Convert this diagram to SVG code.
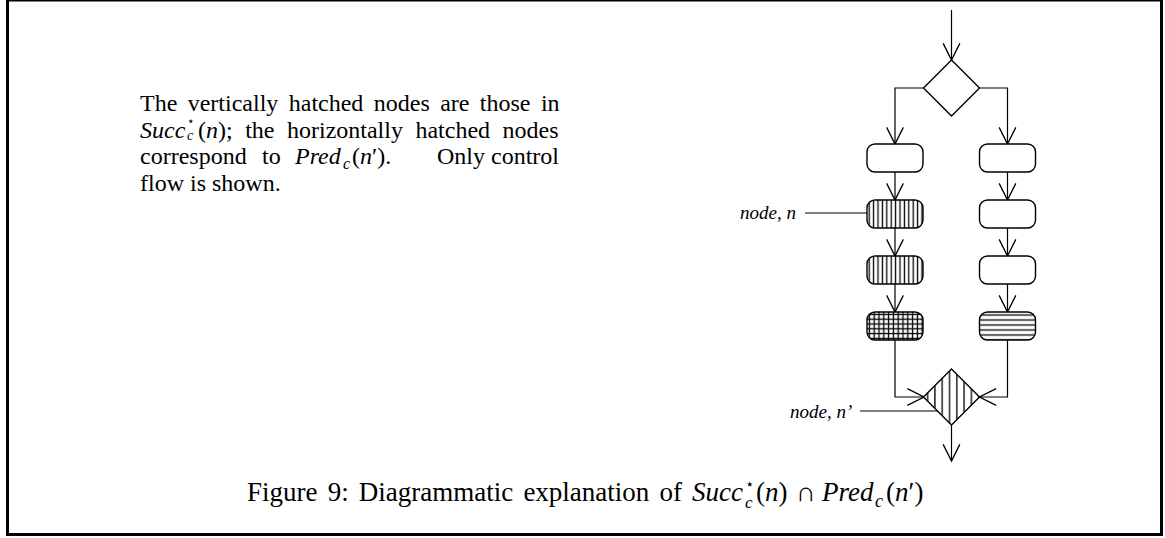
<svg xmlns="http://www.w3.org/2000/svg" width="1165" height="538" viewBox="0 0 1165 538">
<style>
.frame{fill:none;stroke:#000;stroke-width:3}
.ln{fill:none;stroke:#000;stroke-width:1.2}
.node{stroke:#000;stroke-width:1.4}
.txt{font-family:"Liberation Serif","Times New Roman",serif;font-size:24px;fill:#000}
.cap{font-family:"Liberation Serif","Times New Roman",serif;font-size:27px;fill:#000}
.it{font-style:italic}
.lbl{font-family:"Liberation Serif","Times New Roman",serif;font-size:19px;font-style:italic;fill:#000}
</style>
<defs>
<marker id="arr" markerUnits="userSpaceOnUse" markerWidth="20" markerHeight="20" refX="0" refY="0" viewBox="-16 -9 18 18" orient="auto" overflow="visible">
<path d="M-15,-7.5 L0,0 L-15,7.5" fill="none" stroke="#000" stroke-width="1.2"/>
</marker>
<pattern id="vh" patternUnits="userSpaceOnUse" x="867" y="0" width="4.4" height="10">
<rect width="4.4" height="10" fill="#fff"/>
<line x1="2.2" y1="0" x2="2.2" y2="10" stroke="#000" stroke-width="1.3"/>
</pattern>
<pattern id="grid" patternUnits="userSpaceOnUse" x="867" y="312" width="4.8" height="4.8">
<rect width="4.8" height="4.8" fill="#fff"/>
<line x1="2.4" y1="0" x2="2.4" y2="4.8" stroke="#000" stroke-width="1.3"/>
<line x1="0" y1="2.4" x2="4.8" y2="2.4" stroke="#000" stroke-width="1.3"/>
</pattern>
<pattern id="hh" patternUnits="userSpaceOnUse" x="0" y="312.5" width="10" height="5">
<rect width="10" height="5" fill="#fff"/>
<line x1="0" y1="2.5" x2="10" y2="2.5" stroke="#000" stroke-width="1.3"/>
</pattern>
<pattern id="dvh" patternUnits="userSpaceOnUse" x="924" y="0" width="7.3" height="10">
<rect width="7.3" height="10" fill="#fff"/>
<line x1="3.6" y1="0" x2="3.6" y2="10" stroke="#000" stroke-width="1.3"/>
</pattern>
</defs>
<rect width="1165" height="538" fill="#fff"/>
<rect class="frame" x="7.5" y="0" width="1154" height="534.5"/>

<g id="description">
<text class="txt" x="140" y="111" word-spacing="4.4">The vertically hatched nodes are those in</text>
<text class="txt" x="140" y="137.5"><tspan class="it">Succ</tspan><tspan x="187" dy="-12.5" font-size="12">⋆</tspan><tspan class="it" x="187" dy="15" font-size="14">c</tspan><tspan x="198" dy="-2.5" word-spacing="6.5">(<tspan class="it">n</tspan>); the horizontally hatched nodes</tspan></text>
<text class="txt" x="140" y="164">correspond<tspan x="262">to</tspan><tspan class="it" x="295">Pred</tspan><tspan class="it" x="343" dy="5" font-size="16">c</tspan><tspan x="352" dy="-5">(<tspan class="it">n</tspan>′).</tspan><tspan x="437">Only control</tspan></text>
<text class="txt" x="140" y="190.5">flow is shown.</text>
</g>

<g id="connectors">
<line class="ln" x1="951.5" y1="10" x2="951.5" y2="60" marker-end="url(#arr)"/>
<polyline class="ln" points="923.5,88 895,88 895,144" marker-end="url(#arr)"/>
<polyline class="ln" points="979.5,88 1007.5,88 1007.5,144" marker-end="url(#arr)"/>
<line class="ln" x1="895" y1="172" x2="895" y2="200" marker-end="url(#arr)"/>
<line class="ln" x1="895" y1="228" x2="895" y2="256" marker-end="url(#arr)"/>
<line class="ln" x1="895" y1="284" x2="895" y2="312" marker-end="url(#arr)"/>
<line class="ln" x1="1007.5" y1="172" x2="1007.5" y2="200" marker-end="url(#arr)"/>
<line class="ln" x1="1007.5" y1="228" x2="1007.5" y2="256" marker-end="url(#arr)"/>
<line class="ln" x1="1007.5" y1="284" x2="1007.5" y2="312" marker-end="url(#arr)"/>
<polyline class="ln" points="895,340 895,397 924,397" marker-end="url(#arr)"/>
<polyline class="ln" points="1007.5,340 1007.5,397 979.5,397" marker-end="url(#arr)"/>
<line class="ln" x1="951.5" y1="425" x2="951.5" y2="461" marker-end="url(#arr)"/>
<line class="ln" x1="805" y1="213" x2="867" y2="213"/>
<line class="ln" x1="860" y1="411" x2="938" y2="411"/>
</g>

<g id="decision-top"><polygon class="node" fill="#fff" points="951.5,60 979.5,88 951.5,116 923.5,88"/></g>
<g id="left-1"><rect class="node" fill="#fff" x="867" y="144" width="56" height="28" rx="8"/></g>
<g id="left-2"><rect class="node" fill="url(#vh)" x="867" y="200" width="56" height="28" rx="8"/></g>
<g id="left-3"><rect class="node" fill="url(#vh)" x="867" y="256" width="56" height="28" rx="8"/></g>
<g id="left-4"><rect class="node" fill="url(#grid)" x="867" y="312" width="56" height="28" rx="8"/></g>
<g id="right-1"><rect class="node" fill="#fff" x="979.5" y="144" width="56" height="28" rx="8"/></g>
<g id="right-2"><rect class="node" fill="#fff" x="979.5" y="200" width="56" height="28" rx="8"/></g>
<g id="right-3"><rect class="node" fill="#fff" x="979.5" y="256" width="56" height="28" rx="8"/></g>
<g id="right-4"><rect class="node" fill="url(#hh)" x="979.5" y="312" width="56" height="28" rx="8"/></g>
<g id="decision-bottom"><polygon class="node" fill="url(#dvh)" points="951.5,369 979.5,397 951.5,425 923.5,397"/></g>

<g id="labels">
<text class="lbl" x="740" y="219">node, n</text>
<text class="lbl" x="790" y="418">node, n’</text>
</g>

<g id="caption">
<text class="cap" x="247" y="501" word-spacing="3.4">Figure 9: Diagrammatic explanation of<tspan class="it" x="692">Succ</tspan><tspan x="745" dy="-12" font-size="15">⋆</tspan><tspan class="it" x="745" dy="19" font-size="17">c</tspan><tspan x="756" dy="-7">(<tspan class="it">n</tspan>)</tspan><tspan x="796">∩</tspan><tspan class="it" x="822">Pred</tspan><tspan class="it" x="875" dy="6" font-size="18">c</tspan><tspan x="886" dy="-6">(<tspan class="it">n</tspan>′)</tspan></text>
</g>
</svg>
